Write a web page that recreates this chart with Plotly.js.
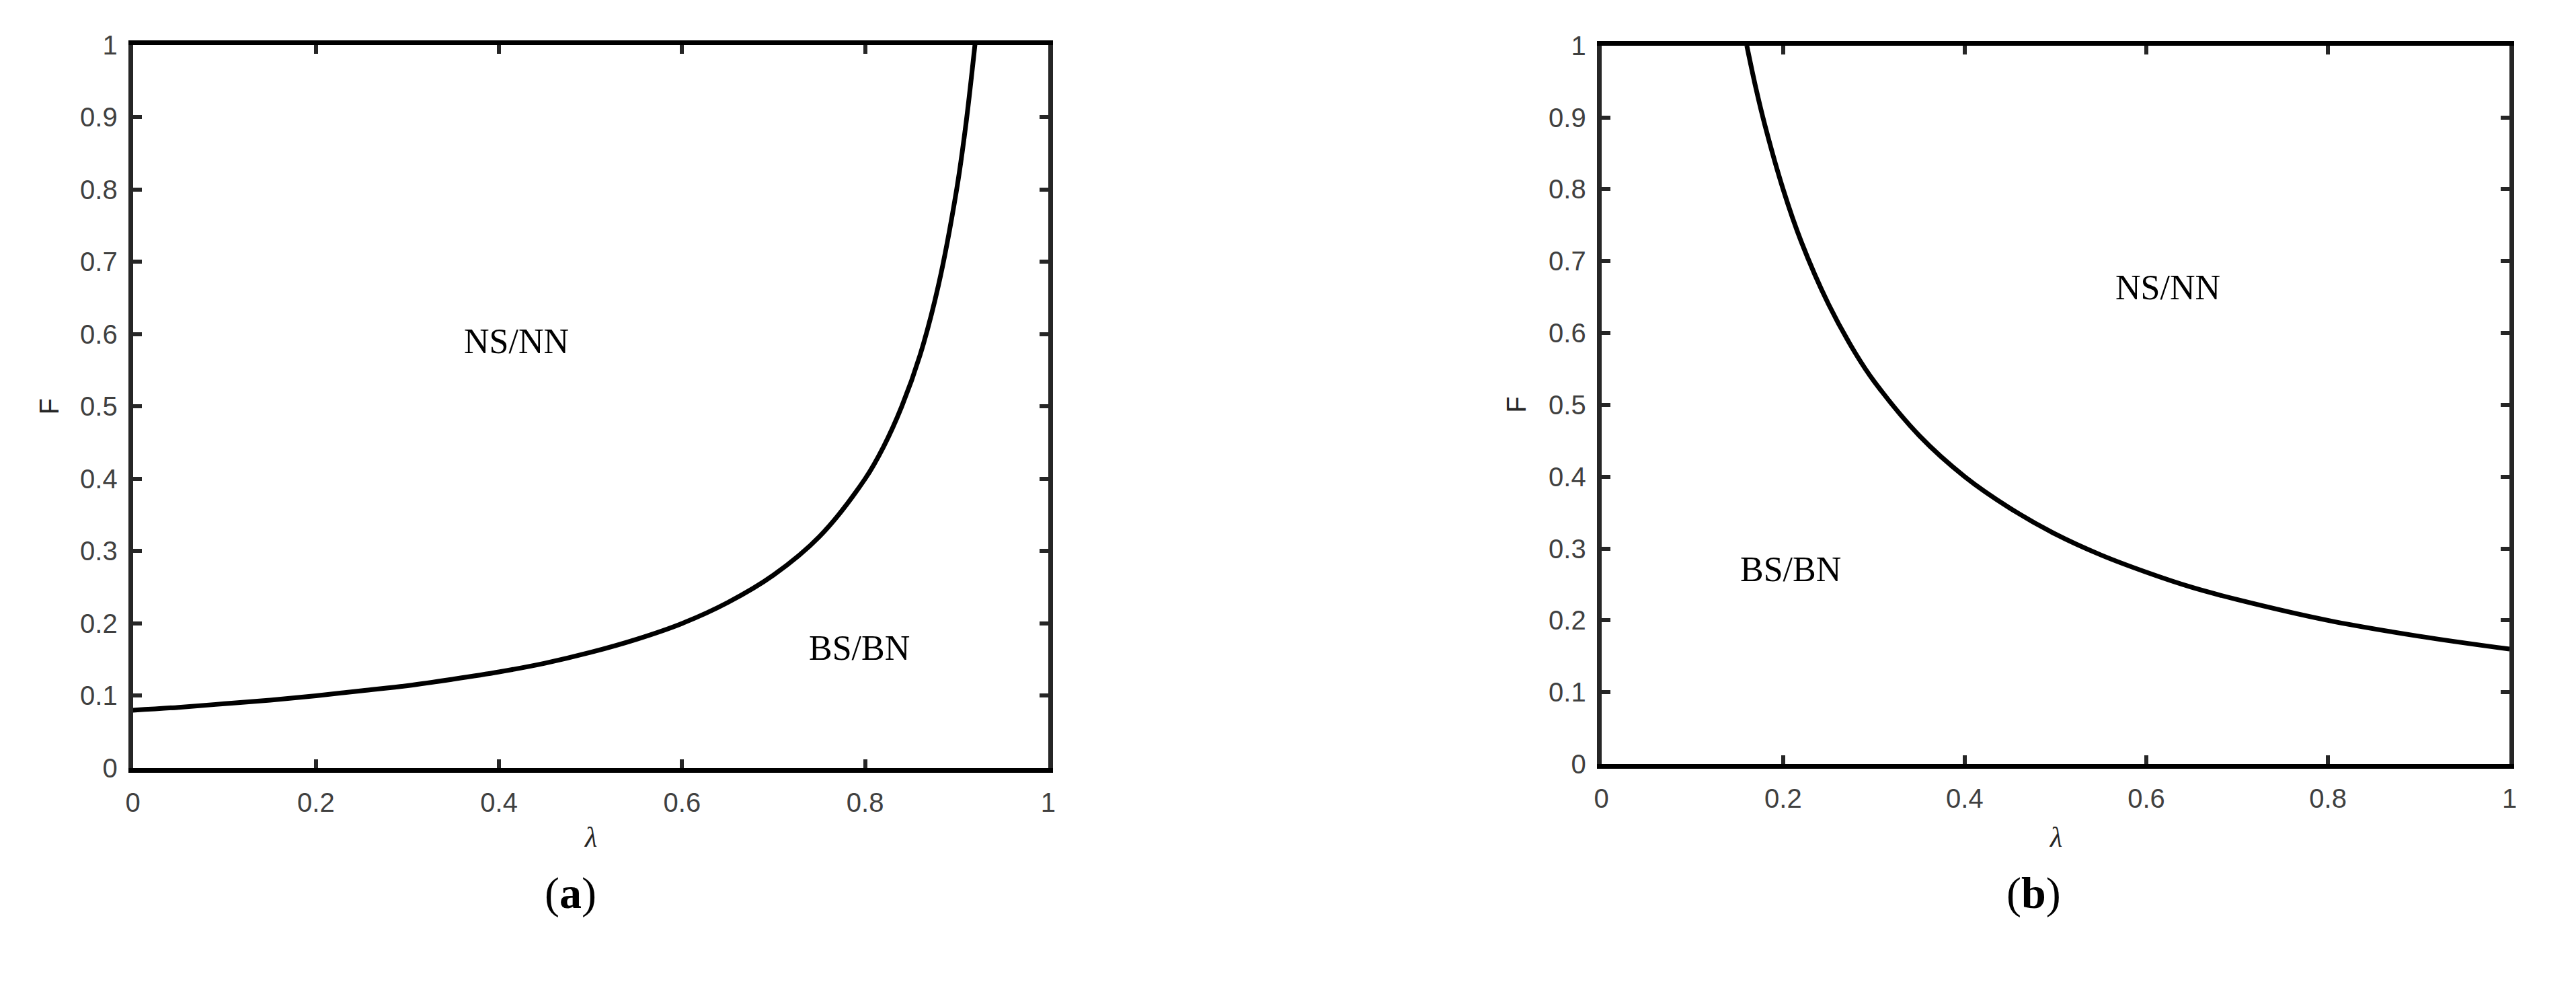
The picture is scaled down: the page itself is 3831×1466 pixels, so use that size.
<!DOCTYPE html>
<html>
<head>
<meta charset="utf-8">
<script src="https://cdn.plot.ly/plotly-3.0.1.min.js"></script>
<style>
  body { margin: 0; background: #fff; }
  #chart { width: 3831px; height: 1466px; }
</style>
</head>
<body>
<div id="chart"></div>
<script>
// panel (a): boundary curve F(lambda)
const lambdaA = [0, 0.05, 0.1, 0.15, 0.2, 0.25, 0.3, 0.35, 0.4, 0.45, 0.5, 0.55, 0.6, 0.65, 0.7, 0.75, 0.8, 0.82, 0.84, 0.86, 0.88, 0.9, 0.91, 0.92];
const fA = [0.08, 0.084, 0.089, 0.094, 0.1, 0.107, 0.114, 0.123, 0.133, 0.145, 0.16, 0.178, 0.2, 0.229, 0.267, 0.32, 0.4, 0.444, 0.5, 0.571, 0.667, 0.8, 0.889, 1.0];

// panel (b): boundary curve F(lambda)
const lambdaB = [0.16, 0.17, 0.18, 0.2, 0.22, 0.25, 0.28, 0.3, 0.35, 0.4, 0.45, 0.5, 0.55, 0.6, 0.65, 0.7, 0.8, 0.9, 1.0];
const fB = [1.0, 0.941, 0.889, 0.8, 0.727, 0.64, 0.571, 0.533, 0.457, 0.4, 0.356, 0.32, 0.291, 0.267, 0.246, 0.229, 0.2, 0.178, 0.16];

const xTicks = [0, 0.2, 0.4, 0.6, 0.8, 1];
const yTicks = [0, 0.1, 0.2, 0.3, 0.4, 0.5, 0.6, 0.7, 0.8, 0.9, 1];

const lineStyle = { color: "#000", width: 7, shape: "spline" };

const traces = [
  { x: lambdaA, y: fA, type: "scatter", mode: "lines", line: lineStyle, xaxis: "x", yaxis: "y", hoverinfo: "skip" },
  { x: lambdaB, y: fB, type: "scatter", mode: "lines", line: lineStyle, xaxis: "x2", yaxis: "y2", hoverinfo: "skip" },
];

const sans = "Liberation Sans, Arial, sans-serif";
const serif = "Liberation Serif, Times New Roman, serif";
const tickFont = { family: sans, size: 40, color: "#404040" };

function xAxis(domain, anchor) {
  return {
    domain, anchor, range: [0, 1], tickvals: xTicks,
    showline: true, linecolor: "#000", linewidth: 7, mirror: "ticks",
    ticks: "inside", ticklen: 13, tickwidth: 6, tickcolor: "#262626",
    ticklabelstandoff: 10,
    showgrid: false, zeroline: false, tickfont: tickFont,
  };
}
function yAxis(domain, anchor) {
  return {
    domain, anchor, range: [0, 1], tickvals: yTicks,
    showline: true, linecolor: "#262626", linewidth: 7, mirror: "ticks",
    ticks: "inside", ticklen: 13, tickwidth: 6, tickcolor: "#262626",
    ticklabelstandoff: 8,
    showgrid: false, zeroline: false, tickfont: tickFont,
  };
}

const regionFont = { family: serif, size: 52, color: "#000" };
const lambdaFont = { family: serif, size: 42, color: "#262626" };
const fFont = { family: sans, size: 40, color: "#262626" };
const panelFont = { family: serif, size: 66, color: "#000" };

function label(props) {
  return Object.assign({ showarrow: false, xanchor: "center", yanchor: "middle" }, props);
}

const annotations = [
  label({ xref: "x", yref: "y", x: 0.419, y: 0.59, text: "NS/NN", font: regionFont }),
  label({ xref: "x", yref: "y", x: 0.794, y: 0.166, text: "BS/BN", font: regionFont }),
  label({ xref: "x2", yref: "y2", x: 0.624, y: 0.663, text: "NS/NN", font: regionFont }),
  label({ xref: "x2", yref: "y2", x: 0.208, y: 0.271, text: "BS/BN", font: regionFont }),
  // axis titles
  label({ xref: "x domain", yref: "paper", x: 0.5, y: 0.1507, text: "<i>λ</i>", font: lambdaFont }),
  label({ xref: "x2 domain", yref: "paper", x: 0.5, y: 0.1507, text: "<i>λ</i>", font: lambdaFont }),
  label({ xref: "paper", yref: "y domain", x: 0.01906, y: 0.5, text: "F", textangle: -90, font: fFont }),
  label({ xref: "paper", yref: "y2 domain", x: 0.5886, y: 0.5, text: "F", textangle: -90, font: fFont }),
  // panel labels
  label({ xref: "paper", yref: "paper", x: 0.2214, y: 0.0941, text: "(<b>a</b>)", font: panelFont }),
  label({ xref: "paper", yref: "paper", x: 0.7896, y: 0.0941, text: "(<b>b</b>)", font: panelFont }),
];

const layout = {
  width: 3831, height: 1466,
  margin: { l: 0, r: 0, t: 0, b: 0 },
  paper_bgcolor: "#fff", plot_bgcolor: "#fff",
  showlegend: false,
  xaxis: xAxis([0.0516, 0.4069], "y"),
  yaxis: yAxis([0.221, 0.9545], "x"),
  xaxis2: xAxis([0.6217, 0.9742], "y2"),
  yaxis2: yAxis([0.2251, 0.9538], "x2"),
  annotations,
};

Plotly.newPlot("chart", traces, layout, { staticPlot: true });
</script>
</body>
</html>
